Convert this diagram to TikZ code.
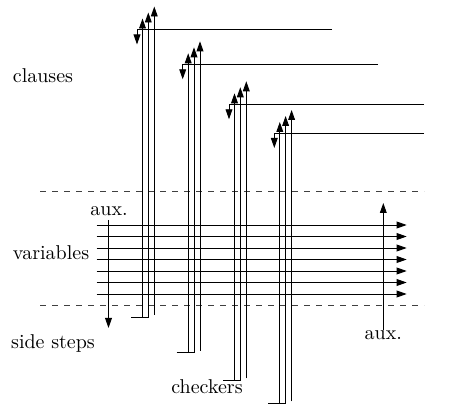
\documentclass[tikz,border=0pt]{standalone}
\usetikzlibrary{arrows.meta}
\tikzset{
  wire/.style={line width=0.45pt},
  tipped/.style={wire,-{Triangle[length=5pt,width=3.4pt]}},
  sepline/.style={line width=0.45pt,dashed,black!75},
  lbl/.style={inner sep=0pt,font=\normalsize}
}
\begin{document}
\begin{tikzpicture}[x=0.5pt,y=-0.5pt]
\useasboundingbox (0,0) rectangle (461,406);
% separators
\coordinate (s1a) at (40,191);   \coordinate (s1b) at (424,191);
\coordinate (s2a) at (40,305.7); \coordinate (s2b) at (424,305.7);
\draw[sepline] (s1a) -- (s1b);
\draw[sepline] (s2a) -- (s2b);
% variables
\foreach \k in {0,...,6}{
  \coordinate (v\k a) at (96.7,225+\k*11.5);
  \coordinate (v\k b) at (406.7,225+\k*11.5);
  \draw[tipped] (v\k a) -- (v\k b);
}
% aux lines
\node[lbl] (auxl) at (109,211) {aux.};
\coordinate (auxlend) at (108.5,328);
\draw[tipped] (108.5,220) -- (auxlend);
\node[lbl] (auxr) at (383.3,335) {aux.};
\coordinate (auxrtop) at (383.3,203);
\draw[tipped] (auxr.north) -- (auxrtop);
% clause / checker groups
\foreach \i/\xd/\yh/\xr/\yb in {1/137/29.5/332/317, 2/182.7/64.3/378/352.7, 3/229/104.3/424/380.5, 4/274.3/133/424/403.3}{
  \coordinate (c\i r) at (\xr,\yh);
  \coordinate (c\i k) at (\xd,\yh);
  \coordinate (c\i d) at (\xd,\yh+15);
  \draw[tipped] (c\i r) -- (c\i k) -- (c\i d);
  \coordinate (w\i a) at (\xd+5.5,\yb);
  \coordinate (w\i at) at (\xd+5.5,\yh-11);
  \draw[tipped] (w\i a) -- (w\i at);
  \coordinate (w\i l) at (\xd-6,\yb);
  \coordinate (w\i b) at (\xd+11.3,\yb);
  \coordinate (w\i bt) at (\xd+11.3,\yh-17);
  \draw[tipped] (w\i l) -- (w\i b) -- (w\i bt);
  \coordinate (w\i c) at (\xd+17.3,\yb-2);
  \coordinate (w\i ct) at (\xd+17.3,\yh-23);
  \draw[tipped] (w\i c) -- (w\i ct);
}
% labels
\node[lbl] (clauses) at (43,76) {clauses};
\node[lbl] (variables) at (51,253) {variables};
\node[lbl] (side) at (53,344) {side steps};
\node[lbl] (checkers) at (207,387) {checkers};
\end{tikzpicture}
\end{document}
